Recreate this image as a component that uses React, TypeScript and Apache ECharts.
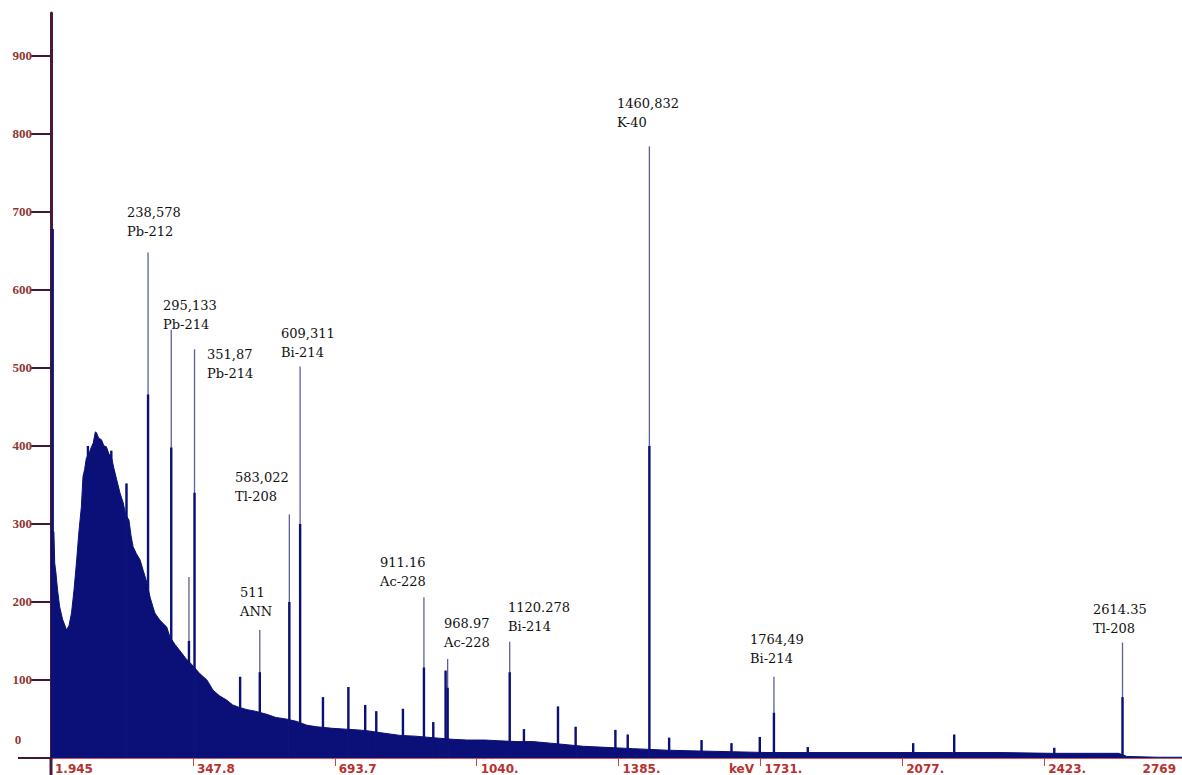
import React, { useEffect, useRef } from "react";
import * as echarts from "echarts";

// ---- axis ticks ----
const xTickValues = [1.945, 347.845, 693.745, 1039.645, 1385.545, 1731.445, 2077.345, 2423.245, 2769.145];
const xTickLabels = ["1.945", "347.8", "693.7", "1040.", "1385.", "1731.", "2077.", "2423.", "2769"];
const yTickValues = [0, 100, 200, 300, 400, 500, 600, 700, 800, 900];
const yTickLabels = ["0", "100", "200", "300", "400", "500", "600", "700", "800", "900"];

// ---- continuum (keV, counts) ----
const contEnergy = [
  1.945, 9, 11, 14, 18, 23, 30, 40, 46, 52, 58, 64, 70, 76, 80, 84, 88, 96, 100, 105, 110, 113, 118, 125, 131,
  137, 143, 149, 155, 162, 170, 178, 184, 192, 197, 202, 210, 219, 227, 234, 244, 255, 267, 276, 284, 292, 305,
  320, 330, 345, 365, 382, 397, 412, 431, 445, 460, 480, 500, 528, 550, 575, 600, 626, 650, 689, 720, 750, 772,
  811, 853, 890, 933, 980, 1016, 1060, 1096, 1140, 1177, 1220, 1260, 1300, 1340, 1420, 1504, 1580, 1665, 1750,
  1828, 1950, 2072, 2200, 2316, 2440, 2560, 2605, 2625, 2700, 2769,
];
const contCounts = [
  292, 290, 250, 237, 215, 194, 178, 164, 170, 186, 215, 250, 290, 322, 361, 370, 384, 392, 398, 404, 418, 417, 410, 408, 400,
  399, 390, 386, 372, 357, 340, 327, 312, 305, 285, 271, 262, 254, 240, 228, 205, 186, 177, 172, 168, 155, 145,
  135, 128, 120, 108, 100, 87, 80, 74, 68, 65, 62, 60, 56, 52, 50, 47, 42, 40, 38, 37, 36, 35,
  32, 29, 28, 26, 24, 23, 23, 22, 21, 21, 19, 17, 15, 14, 12, 10, 9, 8, 7,
  7, 7, 7, 7, 7, 6, 6, 6, 2, 1, 1,
];

// ---- peaks (keV, top counts, height of the dense lower part) ----
const peakEnergy = [
  6, 92, 149, 186, 238.578, 295.133, 338.3, 351.87, 463, 511, 583.022, 609.311, 665, 727, 768, 795, 860,
  911.16, 934, 964, 968.97, 1120.278, 1155, 1238, 1281, 1378, 1408, 1460.832, 1509, 1588, 1661, 1730,
  1764.49, 1847, 2104, 2204, 2448, 2614.35,
];
const peakTop = [
  678, 400, 394, 352, 648, 549, 232, 524, 104, 164, 312, 502, 78, 91, 68, 60, 63,
  206, 46, 112, 127, 149, 37, 66, 40, 36, 30, 784, 26, 23, 19, 27,
  104, 14, 19, 30, 13, 148,
];
const peakCore = [
  678, 400, 394, 352, 466, 398, 150, 340, 104, 110, 200, 300, 78, 91, 68, 60, 63,
  116, 46, 112, 90, 110, 37, 66, 40, 36, 30, 400, 26, 23, 19, 27,
  58, 14, 19, 30, 13, 78,
];

// ---- peak annotations ----
const annoEnergyText = [
  "238,578", "295,133", "351,87", "609,311", "583,022", "511", "911.16", "968.97", "1120.278", "1460,832", "1764,49", "2614.35",
];
const annoNuclide = [
  "Pb-212", "Pb-214", "Pb-214", "Bi-214", "Tl-208", "ANN", "Ac-228", "Ac-228", "Bi-214", "K-40", "Bi-214", "Tl-208",
];

// layout (pixel positions of annotation blocks: left, top)
const annoLayout = [
  [127, 203], [163, 296], [207, 345], [281, 324], [235, 468], [240, 583],
  [380, 553], [444, 614], [508, 598], [617, 94], [750, 630], [1093, 600],
];

const NAVY = "#0b1078";
const XRED = "#b8312f";
const YRED = "#8e3633";

export default function App() {
  const ref = useRef<HTMLDivElement>(null);

  useEffect(() => {
    if (!ref.current) return;
    const chart = echarts.init(ref.current, undefined, { renderer: "svg" });

    const contData = contEnergy.map((e, i) => [e, contCounts[i]]);
    const peakData = peakEnergy.map((e, i) => [e, peakTop[i], peakCore[i]]);

    const labelFor = (v: number) => {
      const i = xTickValues.findIndex((t) => Math.abs(t - v) < 0.01);
      return i >= 0 ? xTickLabels[i] : "";
    };
    const yLabelFor = (v: number) => {
      const i = yTickValues.findIndex((t) => Math.abs(t - v) < 0.01);
      return i >= 0 ? yTickLabels[i] : "";
    };

    const graphics: any[] = [
      { type: "line", shape: { x1: 18, y1: 758, x2: 51, y2: 758 }, style: { stroke: "#3b1a33", lineWidth: 2 }, z: 10 },
      { type: "line", shape: { x1: 51, y1: 758, x2: 51, y2: 775 }, style: { stroke: "#4a1a3d", lineWidth: 3 }, z: 10 },
      {
        type: "text", x: 18, y: 739,
        style: { text: yTickLabels[0], fill: YRED, font: 'bold 13px "Liberation Serif"', align: "center", verticalAlign: "middle" },
      },
      {
        type: "text", x: 754, y: 769,
        style: { text: "keV", fill: XRED, font: 'bold 12px "DejaVu Sans"', align: "right", verticalAlign: "middle" },
      },
      {
        type: "text", x: 1176, y: 769,
        style: { text: xTickLabels[xTickLabels.length - 1], fill: XRED, font: 'bold 12px "DejaVu Sans"', align: "right", verticalAlign: "middle" },
      },
    ];
    annoEnergyText.forEach((t, i) => {
      graphics.push({
        type: "text",
        x: annoLayout[i][0],
        y: annoLayout[i][1],
        style: {
          text: t + "\n" + annoNuclide[i],
          fill: "#111111",
          font: '13px "DejaVu Serif"',
          lineHeight: 19,
          align: "left",
          verticalAlign: "top",
        },
        z: 20,
      });
    });

    chart.setOption({
      animation: false,
      backgroundColor: "#ffffff",
      grid: { left: 51, right: 4, top: 13, bottom: 17, containLabel: false },
      xAxis: {
        type: "value",
        min: 1.945,
        max: 2769.145,
        splitLine: { show: false },
        axisLine: { show: true, onZero: false, lineStyle: { color: "#cc5555", width: 1 } },
        axisTick: { show: true, customValues: xTickValues, length: 8, lineStyle: { color: "#c04a4a", width: 1 } },
        axisLabel: {
          show: true,
          customValues: xTickValues.slice(0, -1),
          formatter: (v: number) => labelFor(v),
          align: "left",
          verticalAlign: "top",
          padding: [0, 0, 0, 4],
          margin: 5,
          color: XRED,
          fontFamily: "DejaVu Sans",
          fontWeight: "bold",
          fontSize: 12,
          hideOverlap: false,
        },
      },
      yAxis: {
        type: "value",
        min: 0,
        max: 955,
        interval: 100,
        splitLine: { show: false },
        axisLine: { show: true, lineStyle: { color: "#4a1a3d", width: 3 } },
        axisTick: { show: true, customValues: yTickValues.slice(1), length: 20, lineStyle: { color: "#3b1a33", width: 2 } },
        axisLabel: {
          show: true,
          customValues: yTickValues.slice(1),
          formatter: (v: number) => (v === 0 ? "" : yLabelFor(v)),
          margin: 19,
          padding: [35, 0, 0, 0],
          color: YRED,
          fontFamily: "Liberation Serif",
          fontWeight: "bold",
          fontSize: 13,
        },
      },
      series: [
        {
          type: "line",
          data: contData,
          symbol: "none",
          lineStyle: { color: NAVY, width: 1 },
          areaStyle: { color: NAVY, opacity: 1 },
          z: 2,
        },
        {
          type: "custom",
          data: peakData,
          encode: { x: 0, y: 1 },
          z: 3,
          renderItem: (_params: any, api: any) => {
            const e = api.value(0);
            const top = api.value(1);
            const core = api.value(2);
            const p0 = api.coord([e, 0]);
            const p1 = api.coord([e, top]);
            const p2 = api.coord([e, core]);
            return {
              type: "group",
              children: [
                { type: "line", shape: { x1: p0[0], y1: p0[1], x2: p1[0], y2: p1[1] }, style: { stroke: "#5d6196", lineWidth: 1.3 } },
                { type: "line", shape: { x1: p0[0], y1: p0[1], x2: p2[0], y2: p2[1] }, style: { stroke: NAVY, lineWidth: 2.4 } },
              ],
            };
          },
        },
      ],
      graphic: graphics,
    });

    return () => chart.dispose();
  }, []);

  return (
    <div style={{ position: "fixed", left: 0, top: 0, width: 1182, height: 775, overflow: "hidden", background: "#fff" }}>
      <div ref={ref} style={{ width: 1190, height: 775 }} />
    </div>
  );
}
